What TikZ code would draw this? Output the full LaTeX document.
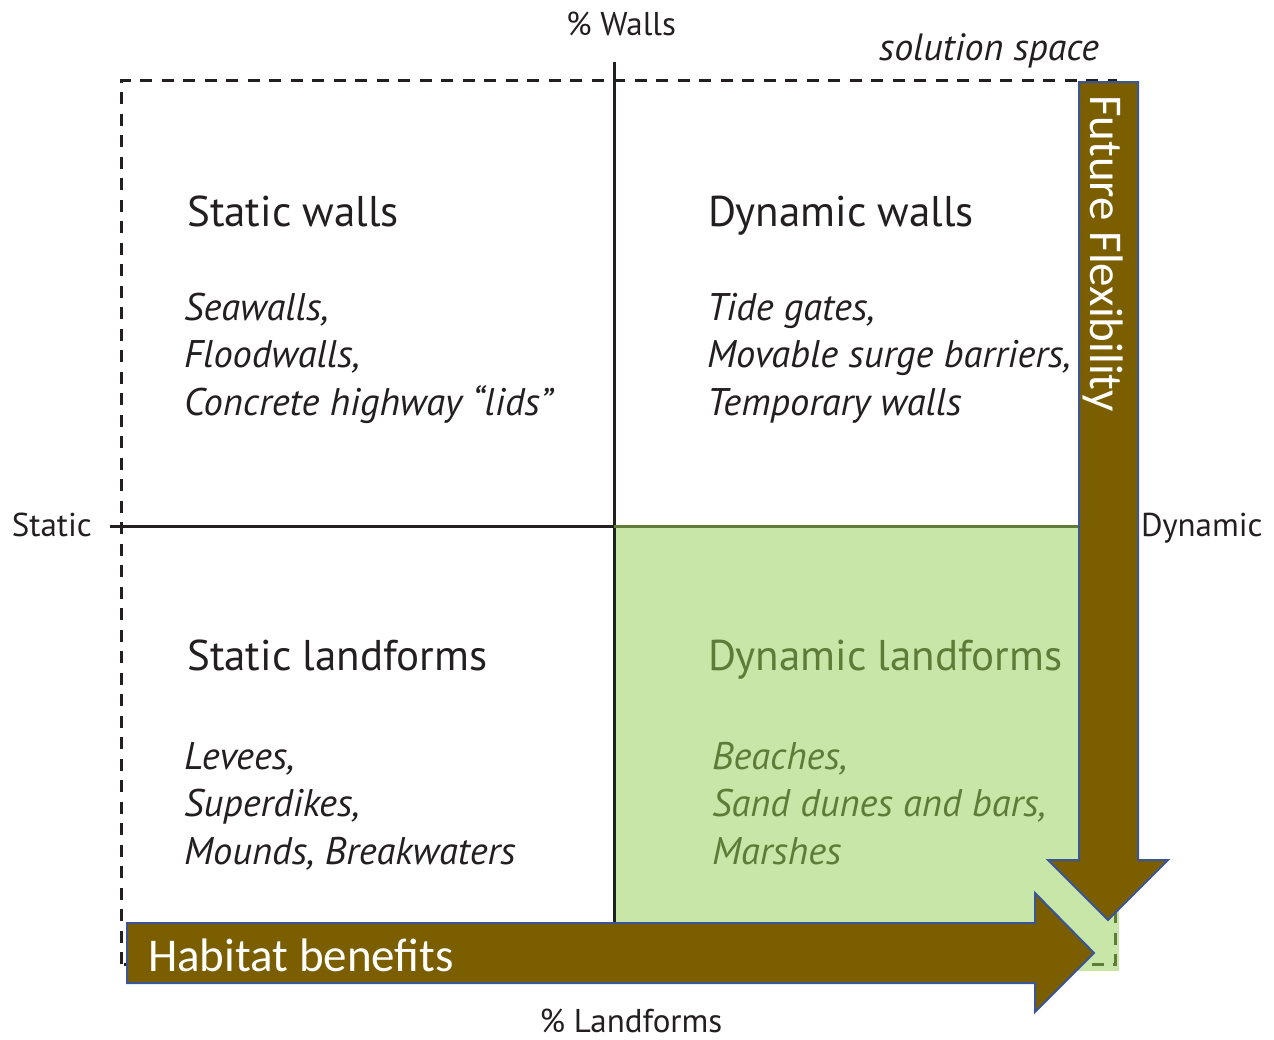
\documentclass[tikz,border=0pt]{standalone}
\usepackage{fontspec}
\setmainfont{PT Sans}
\newfontfamily\arrowfont{Carlito}
\usetikzlibrary{positioning}
\definecolor{arrowbrown}{RGB}{123,94,0}
\definecolor{arrowedge}{RGB}{58,86,150}
\definecolor{landgreen}{RGB}{200,230,167}
\definecolor{darkgreen}{RGB}{94,124,56}
\definecolor{inkblack}{RGB}{35,31,32}
\tikzset{
	axis/.style={line width=3pt, draw=inkblack},
	frame/.style={line width=3pt, draw=inkblack, dash pattern=on 12pt off 9.5pt},
	heading/.style={anchor=base west, inner sep=0pt, text=inkblack, font=\fontsize{43}{50}\selectfont},
	item/.style={anchor=base west, inner sep=0pt, text=inkblack, font=\fontsize{38.5}{45}\selectfont\itshape},
	axislabel/.style={inner sep=0pt, text=inkblack, font=\fontsize{33}{38}\selectfont},
	bigarrow/.style={fill=arrowbrown, draw=arrowedge, line width=2pt},
	arrowlabel/.style={inner sep=0pt, text=white, font=\arrowfont\fontsize{47}{54}\selectfont}
}

\begin{document}
\begin{tikzpicture}[x=1pt, y=-1pt]
	\useasboundingbox (0,0) rectangle (1274,1039);
	
	% dynamic landforms quadrant
	\fill[landgreen] (614,526) rectangle (1119,971);
	
	% solution space
	\draw[frame] (121,964) -- (121,80) -- (1115,80) -- (1115,964) -- cycle;
	\begin{scope}
		\clip (614,526) rectangle (1119,971);
		\draw[frame, draw=darkgreen] (121,964) -- (121,80) -- (1115,80) -- (1115,964) -- cycle;
	\end{scope}
	
	% axes
	\coordinate (top) at (614,62);
	\coordinate (bottom) at (614,922);
	\coordinate (left) at (110,526);
	\coordinate (centre) at (614,526);
	\coordinate (right) at (1078,526);
	\draw[axis] (top) -- (bottom);
	\draw[axis] (left) -- (centre);
	\draw[axis, draw=darkgreen] (centre) -- (right);
	
	\node[axislabel, anchor=base] (walls) at (621,35) {\% Walls};
	\node[axislabel, anchor=base, font=\fontsize{38}{44}\selectfont\itshape] (space) at (989,60) {solution space};
	\node[axislabel, anchor=base east] (static) at (92,536) {Static};
	\node[axislabel, anchor=base west] (dynamic) at (1141,536) {Dynamic};
	\node[axislabel, anchor=base] (landforms) at (631,1032) {\% Landforms};
	
	% quadrants
	\node[heading] (sw) at (187,226) {Static walls};
	\foreach \t [count=\i from 0] in {{Seawalls,},{Floodwalls,},{Concrete highway “lids”}}
		\node[item] (sw\i) at (184,320+47.5*\i) {\t};
	
	\node[heading] (dw) at (708,226) {Dynamic walls};
	\foreach \t [count=\i from 0] in {{Tide gates,},{Movable surge barriers,},{Temporary walls}}
		\node[item] (dw\i) at (707,320+47.5*\i) {\t};
	
	\node[heading] (sl) at (187,670) {Static landforms};
	\foreach \t [count=\i from 0] in {{Levees,},{Superdikes,},{Mounds, Breakwaters}}
		\node[item] (sl\i) at (184,769+47.5*\i) {\t};
	
	\node[heading, text=darkgreen] (dl) at (708,670) {Dynamic landforms};
	\foreach \t [count=\i from 0] in {{Beaches,},{Sand dunes and bars,},{Marshes}}
		\node[item, text=darkgreen] (dl\i) at (712,769+47.5*\i) {\t};
	
	% big arrows
	\draw[bigarrow] (1079,82) -- (1138,82) -- (1138,860) -- (1168,860) -- (1108,920)
		-- (1048,860) -- (1079,860) -- cycle;
	\draw[bigarrow] (127,923) -- (1035,923) -- (1035,893) -- (1094,953) -- (1035,1012)
		-- (1035,983) -- (127,983) -- cycle;
	\node[arrowlabel, rotate=-90, anchor=base west] (flex) at (1090,95) {Future Flexibility};
	\node[arrowlabel, anchor=base west] (habitat) at (148,971) {Habitat benefits};
\end{tikzpicture}
\end{document}
